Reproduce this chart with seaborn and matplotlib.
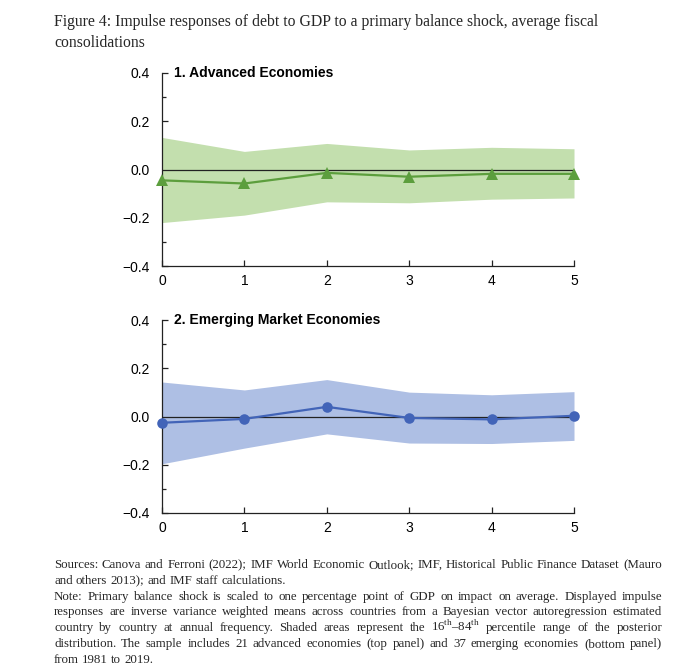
import numpy as np
import pandas as pd
import matplotlib
matplotlib.use("Agg")
import matplotlib.pyplot as plt
import seaborn as sns
from matplotlib.ticker import MultipleLocator
from matplotlib.font_manager import FontProperties

# ---------------- data ----------------
horizon = [0, 1, 2, 3, 4, 5]
adv_mean = [-0.045, -0.058, -0.014, -0.030, -0.018, -0.018]
adv_upper = [0.133, 0.075, 0.108, 0.081, 0.092, 0.086]
adv_lower = [-0.220, -0.189, -0.134, -0.138, -0.123, -0.118]
eme_mean = [-0.026, -0.010, 0.040, -0.006, -0.012, 0.003]
eme_upper = [0.143, 0.110, 0.153, 0.101, 0.090, 0.103]
eme_lower = [-0.196, -0.131, -0.072, -0.110, -0.112, -0.099]
panel_titles = ["1. Advanced Economies", "2. Emerging Market Economies"]
yticks = [-0.4, -0.2, 0.0, 0.2, 0.4]
ytick_labels = ["\u22120.4", "\u22120.2", "0.0", "0.2", "0.4"]

title_lines = ["Figure 4: Impulse responses of debt to GDP to a primary balance shock, average fiscal",
               "consolidations"]
note_paragraphs = [
    ["Sources: Canova and Ferroni (2022); IMF World Economic Outlook; IMF, Historical Public Finance Dataset (Mauro",
     "and others 2013); and IMF staff calculations."],
    ["Note: Primary balance shock is scaled to one percentage point of GDP on impact on average. Displayed impulse",
     "responses are inverse variance weighted means across countries from a Bayesian vector autoregression estimated",
     "country by country at annual frequency. Shaded areas represent the 16$^{\\mathrm{th}}$\u201384$^{\\mathrm{th}}$ percentile range of the posterior",
     "distribution. The sample includes 21 advanced economies (top panel) and 37 emerging economies (bottom panel)",
     "from 1981 to 2019."],
]

sns.set_style("ticks")
plt.rcParams['font.family'] = ['Liberation Sans', 'DejaVu Sans']
plt.rcParams['mathtext.fontset'] = 'custom'
plt.rcParams['mathtext.rm'] = 'Liberation Serif'

W, H = 681, 668
fig = plt.figure(figsize=(W / 100, H / 100), dpi=100)

def ax_rect(l, t, r, b):
    return [l / W, 1 - b / H, (r - l) / W, (b - t) / H]

ax1 = fig.add_axes(ax_rect(162, 73, 574, 266))
ax2 = fig.add_axes(ax_rect(162, 320, 574, 513))

panels = [
    (ax1, adv_mean, adv_lower, adv_upper, "#c3dfae", "#5c9e3d", "^", 8.2, panel_titles[0]),
    (ax2, eme_mean, eme_lower, eme_upper, "#aebfe4", "#4264b8", "o", 7.6, panel_titles[1]),
]

for ax, mean, lo, hi, fill, lc, mk, ms, ttl in panels:
    ax.fill_between(horizon, lo, hi, color=fill, linewidth=0, zorder=1)
    ax.plot([horizon[0], horizon[-1]], [0, 0], color="#222222", lw=0.9, zorder=2)
    df = pd.DataFrame({"h": horizon, "v": mean})
    sns.lineplot(data=df, x="h", y="v", ax=ax, color=lc, lw=1.6, marker=mk,
                 markersize=ms, markeredgewidth=0, zorder=3, clip_on=False)
    ax.set_xlim(0, 5)
    ax.set_ylim(-0.4, 0.4)
    ax.set_xticks(horizon)
    ax.set_xticklabels([str(h) for h in horizon])
    ax.set_yticks(yticks)
    ax.set_yticklabels(ytick_labels)
    ax.yaxis.set_minor_locator(MultipleLocator(0.1))
    ax.set_xlabel("")
    ax.set_ylabel("")
    for s in ["top", "right"]:
        ax.spines[s].set_visible(False)
    for s in ["left", "bottom"]:
        ax.spines[s].set_color("#222222")
        ax.spines[s].set_linewidth(0.9)
    ax.tick_params(axis="both", which="major", direction="in", length=4, width=0.9,
                   color="#222222", labelsize=10, labelcolor="black")
    ax.tick_params(axis="y", which="minor", direction="in", length=3, width=0.9, color="#222222")
    ax.tick_params(axis="y", pad=9)
    ax.tick_params(axis="x", pad=6)
    ax.patch.set_visible(False)
    ax.text(0.03, 1.0, ttl, transform=ax.transAxes, fontsize=10, fontweight="bold",
            ha="left", va="center", color="black")

# ---------------- figure texts ----------------
serif = ['Liberation Serif', 'DejaVu Serif']
fig.text(54 / W, 1 - 26 / H, title_lines[0], family=serif, fontsize=11.3, ha="left", va="baseline")
fig.text(54 / W, 1 - 47 / H, title_lines[1], family=serif, fontsize=11.3, ha="left", va="baseline")

renderer = fig.canvas.get_renderer()
left_px, right_px = 54, 662
fs = 9.3
prop = FontProperties(family=serif, size=fs)

def place_words(words, base_px, justify):
    objs = [fig.text(0, 1 - base_px / H, w, family=serif, fontsize=fs,
                     ha="left", va="baseline") for w in words]
    widths = [o.get_window_extent(renderer).width for o in objs]
    if justify and len(words) > 1:
        gap = (right_px - left_px - sum(widths)) / (len(words) - 1)
    else:
        gap = renderer.get_text_width_height_descent("a b", prop, False)[0] - \
              renderer.get_text_width_height_descent("ab", prop, False)[0]
    xx = left_px
    for o, wdt in zip(objs, widths):
        o.set_x(xx / W)
        xx += wdt + gap

baselines = [568, 584, 600, 615, 631, 647, 663]
li = 0
for para in note_paragraphs:
    for i, line in enumerate(para):
        last = (i == len(para) - 1)
        place_words(line.split(" "), baselines[li], not last)
        li += 1

fig.savefig("out.png", dpi=100)
